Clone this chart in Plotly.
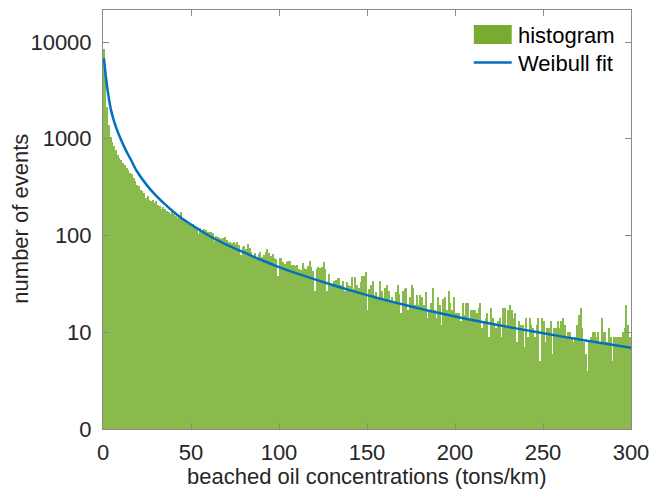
import plotly.graph_objects as go

# ---- data ----
bin_left = list(range(0, 300))          # histogram bins, width 1 ton/km
bin_width = 1.0

counts = [
    # 0-18
    8400, 4500, 2140, 1390, 1054, 935, 833, 770, 683, 632, 597, 560, 530, 500, 470, 443, 430, 393, 364,
    # 19-39
    336, 322, 298, 286, 275, 245, 254, 231, 226, 235, 217, 226, 209, 204, 186, 198, 186, 178, 174, 165, 178,
    # 40-81
    165, 158, 152, 158, 174, 152, 149, 144, 130, 133, 127, 130, 125, 123, 103, 121, 115, 117, 113, 110,
    108, 110, 106, 88, 100, 97, 95, 93, 95, 97, 90, 86, 85, 84, 86, 82, 85, 79, 63, 76, 77, 72,
    # 82-123
    81, 75, 68, 62, 66, 58, 64, 68, 60, 63, 68, 72, 66, 61, 64, 59, 57, 38, 59, 58, 53, 51, 53, 54, 55,
    50, 49, 48, 49, 45, 44, 52, 46, 45, 48, 54, 47, 43, 27, 45, 47, 46,
    # 124-164
    47, 53, 45, 27, 40, 30, 30, 34, 35, 36, 36, 31, 34, 27, 33, 31, 30, 37, 28, 37, 31, 29, 33, 38, 38,
    42, 17, 28, 31, 34, 24, 26, 22, 34, 27, 21, 29, 31, 27, 21, 23,
    # 165-205
    21, 26, 31, 25, 16, 27, 28, 29, 17, 23, 31, 29, 19, 24, 19, 24, 23, 19, 26, 14, 17, 20, 29, 17, 14,
    23, 19, 12, 22, 23, 17, 27, 20, 17, 23, 16, 16, 16, 13, 20, 15,
    # 206-246
    20, 20, 13, 17, 17, 17, 16, 18, 20, 11, 13, 14, 16, 9, 18, 14, 12, 11, 13, 14, 9, 18, 18, 11, 17,
    19, 17, 14, 16, 8, 13, 12, 12, 7, 14, 9, 14, 12, 11, 9, 12,
    # 247-299
    14, 5, 14, 13, 8, 11, 11, 13, 6, 11, 11, 13, 11, 13, 14, 12, 9, 10, 10, 9, 8, 9, 12, 15, 18, 11, 8,
    6, 4, 8, 9, 10, 10, 9, 10, 8, 14, 10, 10, 8, 11, 9, 5, 9, 9, 9, 9, 9, 10, 11, 19, 12, 9,
]

fit_x = [0.5, 1.5, 2.5, 3.5, 4.5, 6, 8, 10, 12, 14, 16, 19, 25, 30, 35, 40, 44.5, 50, 60, 70,
         82.5, 90, 100, 110, 123, 135, 150, 165, 185, 206, 225, 247, 275, 300]
fit_y = [6800, 4600, 3300, 2500, 2000, 1580, 1230, 1000, 830, 700, 600, 470, 330, 260, 212, 176, 152, 130, 100, 80.6,
         64, 55.8, 47.2, 40.6, 34, 29, 24.2, 20.5, 16.7, 13.8, 11.8, 10, 8.15, 6.9]

x_ticks = [0, 50, 100, 150, 200, 250, 300]
y_ticks = [1, 10, 100, 1000, 10000]
y_ticktext = ["0", "10", "100", "1000", "10000"]

series_names = ["histogram", "Weibull fit"]
x_title = "beached oil concentrations (tons/km)"
y_title = "number of events"

# ---- styles ----
GREEN = "#77AC30"
BAR_GREEN = "#8BBA4C"
BLUE = "#0072BD"
TXT = "#262626"
AX = "#8a8a8a"
FONT = "Liberation Sans, Arial, Helvetica, sans-serif"

bin_centers = [b + bin_width / 2 for b in bin_left]

fig = go.Figure()
fig.add_trace(go.Bar(x=bin_centers, y=counts, width=bin_width * 0.85, name=series_names[0],
                     marker=dict(color=BAR_GREEN, line=dict(width=0)), showlegend=False))
fig.add_trace(go.Scatter(x=fit_x, y=fit_y, mode="lines", name=series_names[1],
                         line=dict(color=BLUE, width=2.5, shape="spline", smoothing=0.6),
                         showlegend=False))

L, R, T, B = 102.5, 18.5, 9.5, 59.5
W, H = 650, 489
pw, ph = W - L - R, H - T - B

def px(xp):
    return (xp - L) / pw

def py(yp):
    return 1 - (yp - T) / ph

# manual legend (matches MATLAB legend look)
fig.add_shape(type="rect", xref="paper", yref="paper", x0=px(474), x1=px(512), y0=py(43.5), y1=py(24.5),
              fillcolor=GREEN, line=dict(width=0))
fig.add_shape(type="line", xref="paper", yref="paper", x0=px(474), x1=px(512), y0=py(62), y1=py(62),
              line=dict(color=BLUE, width=2.5))
fig.add_annotation(xref="paper", yref="paper", x=px(516), y=py(35), text=series_names[0], showarrow=False,
                   xanchor="left", yanchor="middle", font=dict(size=22, color="#000000", family=FONT))
fig.add_annotation(xref="paper", yref="paper", x=px(516), y=py(63), text=series_names[1], showarrow=False,
                   xanchor="left", yanchor="middle", font=dict(size=22, color="#000000", family=FONT))

# axis titles placed precisely
fig.add_annotation(xref="paper", yref="paper", x=px(367), y=py(477.5), text=x_title, showarrow=False,
                   xanchor="center", yanchor="middle", font=dict(size=22, color=TXT, family=FONT))
fig.add_annotation(xref="paper", yref="paper", x=px(19), y=py(219), text=y_title, showarrow=False,
                   textangle=-90, xanchor="center", yanchor="middle", font=dict(size=22, color=TXT, family=FONT))

axis_common = dict(showgrid=False, zeroline=False, showline=True, linecolor=AX, linewidth=1,
                   mirror="ticks", ticks="inside", ticklen=6, tickcolor=AX, tickwidth=1, automargin=False,
                   tickfont=dict(size=22, color=TXT, family=FONT))

fig.update_layout(
    width=W, height=H,
    margin=dict(l=L, r=R, t=T, b=B, pad=0),
    paper_bgcolor="white", plot_bgcolor="white",
    bargap=0, showlegend=False,
    font=dict(family=FONT, color=TXT, size=22),
    xaxis=dict(range=[0, 300], tickvals=x_ticks, ticklabelstandoff=4, **axis_common),
    yaxis=dict(type="log", range=[0, 4.331], tickvals=y_ticks, ticktext=y_ticktext, ticklabelstandoff=6,
               **axis_common),
)

fig.write_html("out.html", config={"displayModeBar": False},
               post_script="document.body.style.margin='0';document.body.style.overflow='hidden';")
